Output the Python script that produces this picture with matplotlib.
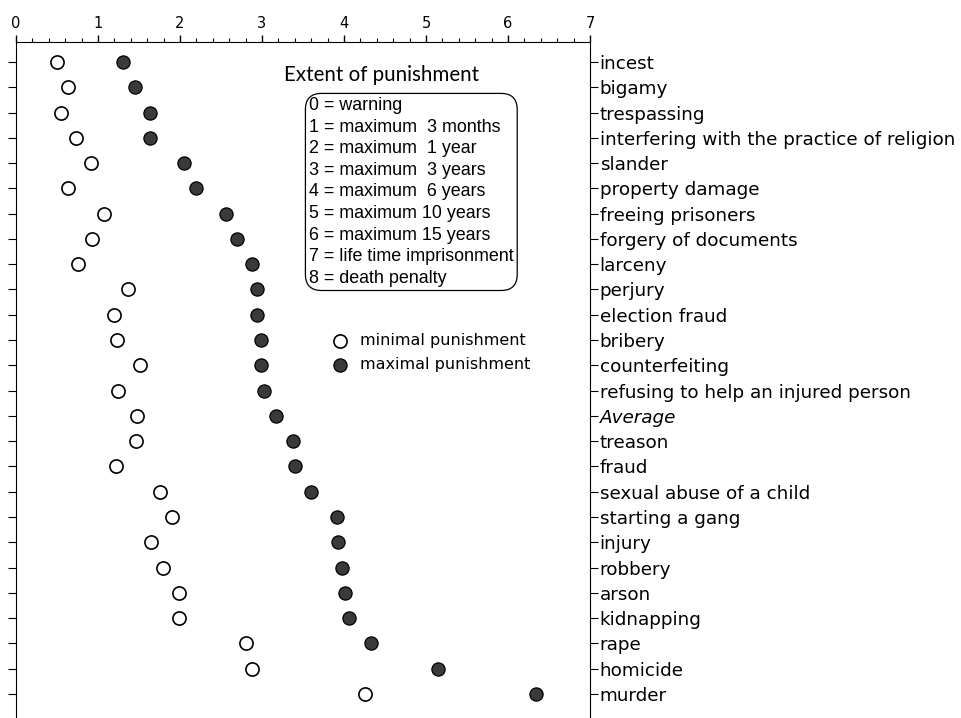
import matplotlib.pyplot as plt
import numpy as np

crimes = ["incest", "bigamy", "trespassing", "interfering with the practice of religion",
          "slander", "property damage", "freeing prisoners", "forgery of documents",
          "larceny", "perjury", "election fraud", "bribery", "counterfeiting",
          "refusing to help an injured person", "Average", "treason", "fraud",
          "sexual abuse of a child", "starting a gang", "injury", "robbery", "arson",
          "kidnapping", "rape", "homicide", "murder"]
minimal = [0.50, 0.64, 0.55, 0.73, 0.91, 0.64, 1.07, 0.93, 0.76, 1.36, 1.20, 1.23, 1.51,
           1.24, 1.48, 1.46, 1.22, 1.76, 1.90, 1.65, 1.79, 1.99, 1.99, 2.80, 2.88, 4.26]
maximal = [1.31, 1.45, 1.63, 1.64, 2.05, 2.19, 2.56, 2.69, 2.88, 2.94, 2.94, 2.99, 2.99,
           3.02, 3.17, 3.38, 3.40, 3.60, 3.91, 3.93, 3.98, 4.01, 4.06, 4.33, 5.15, 6.34]
scale_text = ["0 = warning", "1 = maximum  3 months", "2 = maximum  1 year",
              "3 = maximum  3 years", "4 = maximum  6 years", "5 = maximum 10 years",
              "6 = maximum 15 years", "7 = life time imprisonment", "8 = death penalty"]

W, H = 961, 718
fig = plt.figure(figsize=(W / 100, H / 100), dpi=100)
ax = fig.add_axes([16 / W, 0, (590 - 16) / W, (718 - 42) / H])

y = np.arange(len(crimes))
ax.scatter(minimal, y, s=90, facecolor="white", edgecolor="black", linewidth=1.2, zorder=3)
ax.scatter(maximal, y, s=90, facecolor="#3a3a3a", edgecolor="black", linewidth=0.9, zorder=3)

ax.set_xlim(0, 7)
ax.set_ylim(25.95, -0.79)
ax.xaxis.tick_top()
ax.set_xticks(range(8))
ax.set_xticks(np.arange(0, 7.01, 0.2), minor=True)
ax.tick_params(axis="x", which="major", direction="out", length=5, width=1, labelsize=10.5, pad=3)
ax.tick_params(axis="x", which="minor", direction="out", length=3, width=0.8)
ax.spines["bottom"].set_visible(False)

ax.set_yticks(y)
ax.set_yticklabels(crimes)
ax.tick_params(axis="y", which="both", left=True, right=True, labelleft=False,
               labelright=True, direction="out", length=6, width=0.8, labelsize=13.2, pad=1)
for lab in ax.get_yticklabels():
    if lab.get_text() == "Average":
        lab.set_style("italic")

fig.text(382 / W, 1 - 75 / H, "Extent of punishment", fontsize=14.8, family="Lato",
         ha="center", va="center")

fig.text(309 / W, 1 - 97 / H, "\n".join(scale_text), fontsize=12.9,
         family="Liberation Sans", ha="left", va="top", linespacing=1.355,
         bbox=dict(boxstyle="round,pad=0.2,rounding_size=0.9", facecolor="white",
                   edgecolor="black", linewidth=0.9))

ax.scatter([], [], s=90, facecolor="white", edgecolor="black", linewidth=1.2,
           label="minimal punishment")
ax.scatter([], [], s=90, facecolor="#3a3a3a", edgecolor="black", linewidth=0.9,
           label="maximal punishment")
ax.legend(loc="upper left", bbox_to_anchor=((318 - 16) / 574, 1 - (327 - 42) / 676),
          frameon=False, fontsize=11.5, handletextpad=0.2, labelspacing=0.55,
          borderaxespad=0, markerscale=1.0)

fig.savefig("out.png", dpi=100)
